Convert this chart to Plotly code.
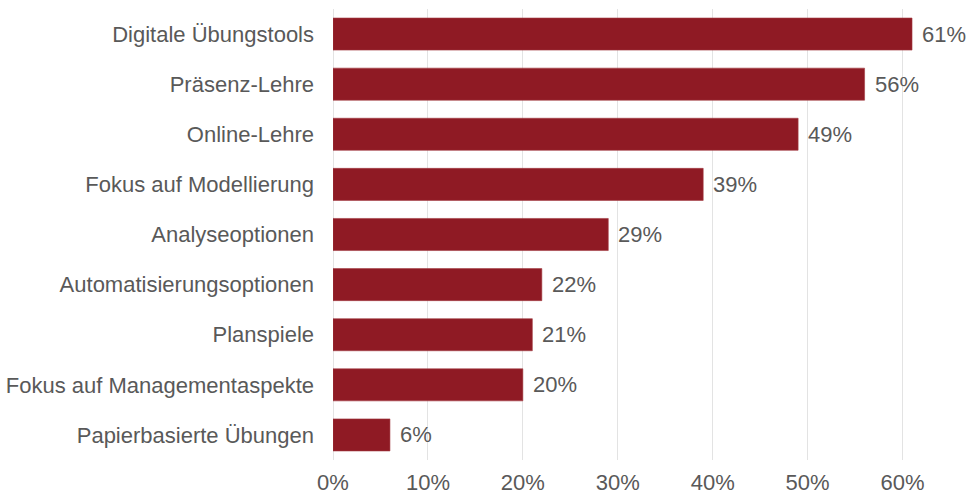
import plotly.graph_objects as go

categories = [
    "Digitale Übungstools",
    "Präsenz-Lehre",
    "Online-Lehre",
    "Fokus auf Modellierung",
    "Analyseoptionen",
    "Automatisierungsoptionen",
    "Planspiele",
    "Fokus auf Managementaspekte",
    "Papierbasierte Übungen",
]
shares = [0.61, 0.56, 0.49, 0.39, 0.29, 0.22, 0.21, 0.20, 0.06]
tick_vals = [0, 0.1, 0.2, 0.3, 0.4, 0.5, 0.6]
tick_text = ["0%", "10%", "20%", "30%", "40%", "50%", "60%"]

BAR = "#8F1A24"
TEXT = "#595959"
FONT = "Liberation Sans, Arial, sans-serif"
SIZE = 22

fig = go.Figure()
fig.add_trace(go.Bar(
    x=shares,
    y=categories,
    orientation="h",
    marker=dict(color=BAR, line=dict(color="#A33A42", width=0.6)),
    hoverinfo="skip",
))

for cat, v in zip(categories, shares):
    fig.add_annotation(
        x=v, y=cat, text=f"{round(v * 100)}%",
        xanchor="left", yanchor="middle", xshift=8,
        showarrow=False, font=dict(size=SIZE, color=TEXT, family=FONT),
    )

fig.update_layout(
    width=968, height=497,
    margin=dict(l=333, r=18, t=9, b=37),
    paper_bgcolor="white", plot_bgcolor="white",
    showlegend=False, bargap=0.36,
    font=dict(family=FONT, size=SIZE, color=TEXT),
)
fig.update_xaxes(
    range=[0, 0.65], tickvals=tick_vals, ticktext=tick_text,
    showgrid=True, gridcolor="#E3E3E3", gridwidth=1,
    zeroline=True, zerolinecolor="#E3E3E3", zerolinewidth=1,
    showline=False, ticks="", ticklabelstandoff=7,
    tickfont=dict(size=SIZE, color=TEXT, family=FONT),
    automargin=False, fixedrange=True,
)
fig.update_yaxes(
    categoryorder="array", categoryarray=categories[::-1],
    showgrid=False, showline=False, ticks="", ticklabelstandoff=18,
    tickfont=dict(size=SIZE, color=TEXT, family=FONT),
    automargin=False, fixedrange=True,
)

fig.write_html("out.html", config={"displayModeBar": False})
